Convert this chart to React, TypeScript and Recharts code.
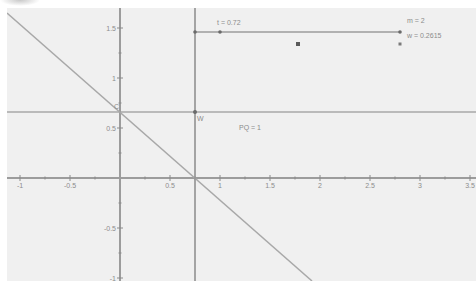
import { ComposedChart, XAxis, YAxis, Line, Scatter, ReferenceLine } from "recharts";

// axis ticks (major carry a label, minor are marks only)
const xMajor = [-1, -0.5, 0.5, 1, 1.5, 2, 2.5, 3, 3.5];
const xMinor = [-0.75, -0.25, 0.25, 0.75, 1.25, 1.75, 2.25, 2.75, 3.25];
const yMajor = [1.5, 1, 0.5, -0.5, -1];
const yMinor = [1.25, 0.75, 0.25, -0.25, -0.75];

// constructions
const tValue = 0.75;
const levelY = 0.66;
const diagX = [-1.13, 1.92];
const diagY = [1.65, -1.03];
const sliderX = [0.75, 2.8];
const sliderY = 1.46;
const sliderPointsX = [0.75, 1.0, 2.8];
const bigPoint = [{ x: 1.78, y: 1.34 }];
const smallPoint = [{ x: 2.8, y: 1.34 }];

const notes = [
  { x: 0.97, y: 1.53, text: "t = 0.72" },
  { x: 2.87, y: 1.55, text: "m = 2" },
  { x: 2.87, y: 1.40, text: "w = 0.2615" },
  { x: 1.19, y: 0.48, text: "PQ = 1" },
  { x: 0.77, y: 0.57, text: "W" },
  { x: -0.06, y: 0.69, text: "C" },
];

const diagData = diagX.map((x, i) => ({ x, y: diagY[i] }));
const sliderPts = sliderPointsX.map((x) => ({ x, y: sliderY }));
const intersection = [{ x: tValue, y: levelY }];

const grey = "#9c9c9c";
const textFill = "#8c8c8c";
const font = "Liberation Sans, Arial, sans-serif";

export default function App() {
  return (
    <div style={{ position: "absolute", left: 0, top: 0, width: 476, height: 281, background: "#fff" }}>
      <div
        style={{
          position: "absolute",
          left: 7,
          top: 8,
          width: 469,
          height: 273,
          background: "#f0f0f0",
        }}
      />
      <div
        style={{
          position: "absolute",
          left: 0,
          top: -6,
          width: 40,
          height: 12,
          borderRadius: "50%",
          background: "radial-gradient(ellipse at center, #c8c8c8 0%, rgba(255,255,255,0) 70%)",
        }}
      />
      <ComposedChart
        width={476}
        height={281}
        margin={{ top: 8, right: 0, bottom: 0, left: 7 }}
        style={{ position: "absolute", left: 0, top: 0 }}
      >
        <XAxis type="number" dataKey="x" domain={[-1.13, 3.56]} hide allowDataOverflow />
        <YAxis type="number" dataKey="y" domain={[-1.03, 1.7]} hide allowDataOverflow />

        <ReferenceLine y={levelY} stroke="#a8a8a8" strokeWidth={1.5} />
        <ReferenceLine x={0} stroke={grey} strokeWidth={2} />
        <ReferenceLine y={0} stroke={grey} strokeWidth={2} />
        <ReferenceLine x={tValue} stroke="#a4a4a4" strokeWidth={2} />
        <ReferenceLine
          segment={[
            { x: sliderX[0], y: sliderY },
            { x: sliderX[1], y: sliderY },
          ]}
          stroke={grey}
          strokeWidth={1.5}
        />

        <Line
          data={diagData}
          dataKey="y"
          type="linear"
          stroke="#a8a8a8"
          strokeWidth={1.5}
          dot={false}
          isAnimationActive={false}
        />

        <Scatter
          data={xMajor.map((x) => ({ x, y: 0 }))}
          isAnimationActive={false}
          shape={(p: any) => (
            <g>
              <line x1={p.cx} x2={p.cx} y1={p.cy - 3} y2={p.cy + 3} stroke="#8a8a8a" strokeWidth={1} />
              <text x={p.cx} y={p.cy + 10} textAnchor="middle" fontSize={7} fill={textFill} fontFamily={font}>
                {String(p.payload.x)}
              </text>
            </g>
          )}
        />
        <Scatter
          data={xMinor.map((x) => ({ x, y: 0 }))}
          isAnimationActive={false}
          shape={(p: any) => (
            <line x1={p.cx} x2={p.cx} y1={p.cy - 1.5} y2={p.cy + 1.5} stroke="#8a8a8a" strokeWidth={1} />
          )}
        />
        <Scatter
          data={yMajor.map((y) => ({ x: 0, y }))}
          isAnimationActive={false}
          shape={(p: any) => (
            <g>
              <line x1={p.cx - 3} x2={p.cx + 3} y1={p.cy} y2={p.cy} stroke="#8a8a8a" strokeWidth={1} />
              <text x={p.cx - 4} y={p.cy + 2.5} textAnchor="end" fontSize={7} fill={textFill} fontFamily={font}>
                {String(p.payload.y)}
              </text>
            </g>
          )}
        />
        <Scatter
          data={yMinor.map((y) => ({ x: 0, y }))}
          isAnimationActive={false}
          shape={(p: any) => (
            <line x1={p.cx - 1.5} x2={p.cx + 1.5} y1={p.cy} y2={p.cy} stroke="#8a8a8a" strokeWidth={1} />
          )}
        />

        <Scatter
          data={sliderPts}
          isAnimationActive={false}
          shape={(p: any) => <circle cx={p.cx} cy={p.cy} r={1.8} fill="#6a6a6a" />}
        />
        <Scatter
          data={bigPoint}
          isAnimationActive={false}
          shape={(p: any) => <rect x={p.cx - 2} y={p.cy - 2} width={4} height={4} fill="#5a5a5a" />}
        />
        <Scatter
          data={smallPoint}
          isAnimationActive={false}
          shape={(p: any) => <rect x={p.cx - 1.5} y={p.cy - 1.5} width={3} height={3} fill="#7a7a7a" />}
        />
        <Scatter
          data={intersection}
          isAnimationActive={false}
          shape={(p: any) => <circle cx={p.cx} cy={p.cy} r={2} fill="#6a6a6a" />}
        />

        <Scatter
          data={notes}
          isAnimationActive={false}
          shape={(p: any) => (
            <text x={p.cx} y={p.cy} fontSize={7} fill={textFill} fontFamily={font}>
              {p.payload.text}
            </text>
          )}
        />
      </ComposedChart>
    </div>
  );
}
